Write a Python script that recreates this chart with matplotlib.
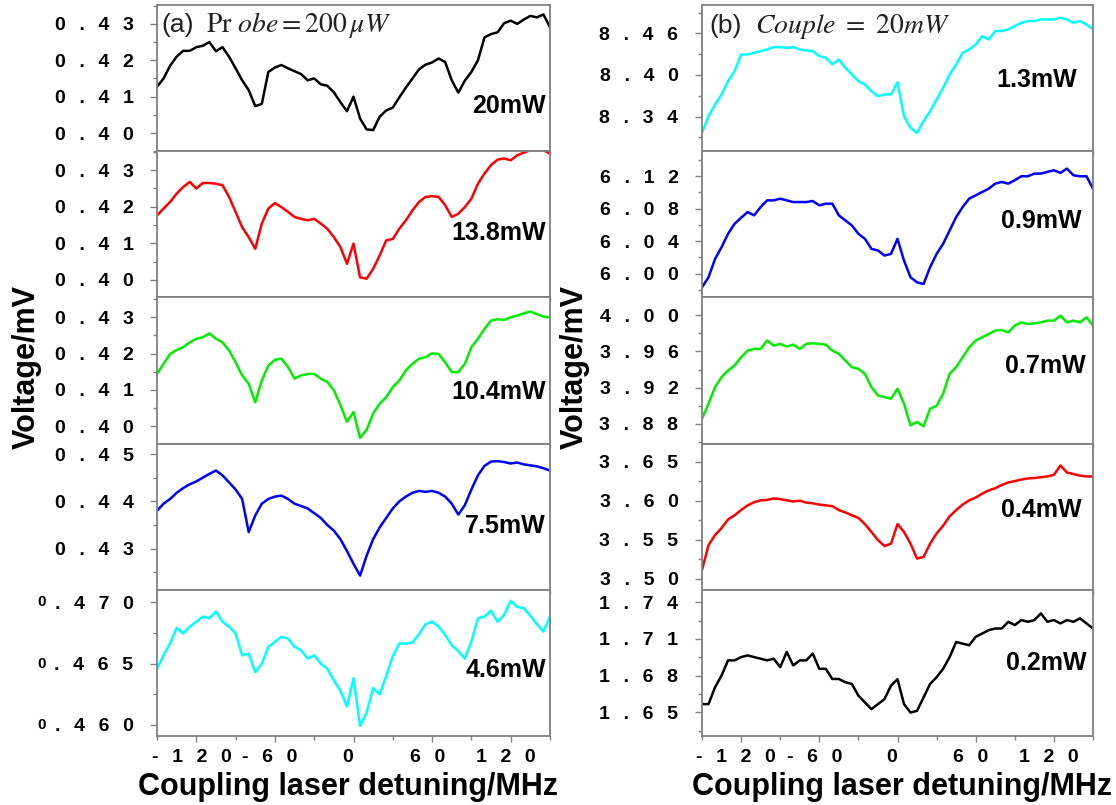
import matplotlib.pyplot as plt
import matplotlib.transforms as mtransforms
from matplotlib.ticker import FixedLocator, MultipleLocator

plt.rcParams['font.family'] = ['Liberation Sans', 'DejaVu Sans']
plt.rcParams['mathtext.fontset'] = 'stix'

W, H = 1116, 805

# detuning grid (MHz), same for all traces
detuning = list(range(-150, 151, 5))

# (a) probe = 200 uW, different coupling powers
v_20mw = [0.4127, 0.4150, 0.4185, 0.4210, 0.4226, 0.4226, 0.4236, 0.4240, 0.4250, 0.4225,
          0.4236, 0.4210, 0.4178, 0.4145, 0.4118, 0.4074, 0.4080, 0.4168, 0.4180, 0.4187,
          0.4178, 0.4170, 0.4162, 0.4145, 0.4150, 0.4134, 0.4130, 0.4112, 0.4085, 0.4060,
          0.4100, 0.4040, 0.4010, 0.4008, 0.4045, 0.4062, 0.4070, 0.4098, 0.4125, 0.4150,
          0.4175, 0.4188, 0.4194, 0.4205, 0.4195, 0.4145, 0.4111, 0.4144, 0.4168, 0.4200,
          0.4263, 0.4272, 0.4277, 0.4302, 0.4309, 0.4300, 0.4312, 0.4322, 0.4318, 0.4326,
          0.4291]
v_13_8mw = [0.4176, 0.4195, 0.4213, 0.4236, 0.4254, 0.4268, 0.4250, 0.4265, 0.4265, 0.4263,
            0.4259, 0.4227, 0.4186, 0.4144, 0.4117, 0.4085, 0.4154, 0.4195, 0.4210, 0.4199,
            0.4186, 0.4172, 0.4167, 0.4163, 0.4167, 0.4154, 0.4140, 0.4117, 0.4090, 0.4044,
            0.4099, 0.4007, 0.4003, 0.4030, 0.4067, 0.4108, 0.4112, 0.4140, 0.4163, 0.4190,
            0.4213, 0.4227, 0.4229, 0.4227, 0.4204, 0.4172, 0.4181, 0.4199, 0.4222, 0.4263,
            0.4291, 0.4314, 0.4329, 0.4332, 0.4327, 0.4341, 0.4348, 0.4355, 0.4355, 0.4355,
            0.4345]
v_10_4mw = [0.4144, 0.4172, 0.4199, 0.4210, 0.4218, 0.4231, 0.4241, 0.4245, 0.4256, 0.4241,
            0.4231, 0.4209, 0.4176, 0.4140, 0.4117, 0.4066, 0.4126, 0.4167, 0.4183, 0.4186,
            0.4163, 0.4131, 0.4140, 0.4144, 0.4144, 0.4131, 0.4122, 0.4099, 0.4058, 0.4012,
            0.4039, 0.3968, 0.3990, 0.4035, 0.4062, 0.4080, 0.4108, 0.4126, 0.4154, 0.4172,
            0.4186, 0.4190, 0.4201, 0.4199, 0.4176, 0.4149, 0.4149, 0.4172, 0.4218, 0.4241,
            0.4268, 0.4291, 0.4295, 0.4293, 0.4300, 0.4305, 0.4311, 0.4316, 0.4309, 0.4302,
            0.4300]
v_7_5mw = [0.4380, 0.4395, 0.4405, 0.4418, 0.4428, 0.4436, 0.4442, 0.4450, 0.4458, 0.4465,
           0.4455, 0.4440, 0.4425, 0.4405, 0.4335, 0.4370, 0.4395, 0.4405, 0.4410, 0.4412,
           0.4405, 0.4395, 0.4390, 0.4385, 0.4375, 0.4365, 0.4350, 0.4338, 0.4320, 0.4295,
           0.4268, 0.4243, 0.4285, 0.4320, 0.4345, 0.4365, 0.4385, 0.4400, 0.4410, 0.4418,
           0.4422, 0.4420, 0.4422, 0.4418, 0.4410, 0.4395, 0.4372, 0.4392, 0.4425, 0.4455,
           0.4475, 0.4484, 0.4485, 0.4483, 0.4480, 0.4482, 0.4478, 0.4476, 0.4474, 0.4470,
           0.4465]
v_4_6mw = [0.46458, 0.46567, 0.46663, 0.46790, 0.46745, 0.46800, 0.46841, 0.46882, 0.46868, 0.46923,
           0.46841, 0.46800, 0.46745, 0.46567, 0.46581, 0.46430, 0.46499, 0.46636, 0.46677, 0.46718,
           0.46704, 0.46636, 0.46608, 0.46540, 0.46567, 0.46499, 0.46458, 0.46362, 0.46279, 0.46150,
           0.46380, 0.45992, 0.46100, 0.46300, 0.46250, 0.46400, 0.46560, 0.46663, 0.46663, 0.46670,
           0.46740, 0.46820, 0.46841, 0.46800, 0.46732, 0.46649, 0.46600, 0.46540, 0.46680, 0.46868,
           0.46882, 0.46930, 0.46840, 0.46896, 0.47010, 0.46960, 0.46951, 0.46890, 0.46820, 0.46760,
           0.46882]

# (b) couple = 20 mW, different probe powers
v_1_3mw = [8.3164, 8.3405, 8.3573, 8.3718, 8.3911, 8.4055, 8.4296, 8.4296, 8.4320, 8.4345,
           8.4369, 8.4402, 8.4402, 8.4393, 8.4402, 8.4369, 8.4354, 8.4345, 8.4272, 8.4248,
           8.4152, 8.4224, 8.4104, 8.4007, 8.3911, 8.3863, 8.3766, 8.3694, 8.3718, 8.3718,
           8.3896, 8.3405, 8.3236, 8.3164, 8.3333, 8.3477, 8.3646, 8.3815, 8.4007, 8.4152,
           8.4320, 8.4369, 8.4441, 8.4561, 8.4513, 8.4634, 8.4634, 8.4658, 8.4706, 8.4754,
           8.4778, 8.4778, 8.4802, 8.4802, 8.4802, 8.4827, 8.4802, 8.4754, 8.4778, 8.4730,
           8.4658]
v_0_9mw = [5.9831, 5.9955, 6.0181, 6.0326, 6.0491, 6.0614, 6.0689, 6.0759, 6.0718, 6.0821,
           6.0903, 6.0903, 6.0924, 6.0903, 6.0882, 6.0882, 6.0882, 6.0895, 6.0841, 6.0862,
           6.0862, 6.0718, 6.0656, 6.0594, 6.0491, 6.0429, 6.0305, 6.0285, 6.0223, 6.0243,
           6.0429, 6.0161, 5.9955, 5.9893, 5.9872, 6.0079, 6.0243, 6.0367, 6.0532, 6.0697,
           6.0821, 6.0924, 6.0965, 6.1006, 6.1047, 6.1109, 6.1130, 6.1109, 6.1151, 6.1200,
           6.1200, 6.1233, 6.1233, 6.1254, 6.1274, 6.1241, 6.1295, 6.1212, 6.1200, 6.1200,
           6.1047]
v_0_7mw = [3.8858, 3.9023, 3.9206, 3.9316, 3.9389, 3.9444, 3.9535, 3.9608, 3.9627, 3.9627,
           3.9720, 3.9663, 3.9682, 3.9652, 3.9674, 3.9627, 3.9682, 3.9689, 3.9682, 3.9674,
           3.9608, 3.9572, 3.9499, 3.9426, 3.9407, 3.9352, 3.9206, 3.9114, 3.9096, 3.9078,
           3.9188, 3.9023, 3.8785, 3.8822, 3.8774, 3.8968, 3.9000, 3.9133, 3.9352, 3.9426,
           3.9535, 3.9645, 3.9718, 3.9755, 3.9791, 3.9828, 3.9835, 3.9810, 3.9883, 3.9919,
           3.9901, 3.9908, 3.9919, 3.9938, 3.9938, 3.9993, 3.9919, 3.9938, 3.9919, 3.9974,
           3.9883]
v_0_4mw = [3.5113, 3.5431, 3.5560, 3.5650, 3.5760, 3.5813, 3.5880, 3.5940, 3.5980, 3.6004,
           3.6010, 3.6029, 3.6020, 3.6004, 3.5990, 3.6000, 3.5975, 3.5966, 3.5950, 3.5940,
           3.5930, 3.5880, 3.5850, 3.5813, 3.5780, 3.5700, 3.5600, 3.5495, 3.5420, 3.5450,
           3.5700, 3.5600, 3.5450, 3.5260, 3.5280, 3.5450, 3.5580, 3.5680, 3.5800, 3.5880,
           3.5950, 3.6004, 3.6040, 3.6090, 3.6131, 3.6160, 3.6200, 3.6233, 3.6250, 3.6270,
           3.6284, 3.6290, 3.6300, 3.6310, 3.6330, 3.6450, 3.6360, 3.6340, 3.6320, 3.6310,
           3.6309]
v_0_2mw = [1.6566, 1.6566, 1.6704, 1.6800, 1.6924, 1.6924, 1.6951, 1.6965, 1.6951, 1.6938,
           1.6924, 1.6938, 1.6869, 1.6993, 1.6883, 1.6924, 1.6924, 1.6980, 1.6855, 1.6855,
           1.6772, 1.6772, 1.6745, 1.6731, 1.6635, 1.6580, 1.6525, 1.6566, 1.6607, 1.6717,
           1.6770, 1.6566, 1.6497, 1.6511, 1.6621, 1.6731, 1.6786, 1.6855, 1.6951, 1.7075,
           1.7061, 1.7048, 1.7117, 1.7144, 1.7172, 1.7185, 1.7185, 1.7240, 1.7213, 1.7254,
           1.7240, 1.7254, 1.7309, 1.7240, 1.7254, 1.7227, 1.7254, 1.7240, 1.7268, 1.7227,
           1.7185]

x_ticks = [-120, -60, 0, 60, 120]

# values, colour, label, y ticks, decimals, ylim, minor step
left_panels = [
    (v_20mw, 'black', '20mW', [0.40, 0.41, 0.42, 0.43], 2, (0.3950, 0.4352), 0.005),
    (v_13_8mw, 'red', '13.8mW', [0.40, 0.41, 0.42, 0.43], 2, (0.3952, 0.4352), 0.005),
    (v_10_4mw, '#00ee00', '10.4mW', [0.40, 0.41, 0.42, 0.43], 2, (0.3952, 0.4355), 0.005),
    (v_7_5mw, 'blue', '7.5mW', [0.43, 0.44, 0.45], 2, (0.4213, 0.4522), 0.005),
    (v_4_6mw, 'cyan', '4.6mW', [0.460, 0.465, 0.470], 3, (0.4591, 0.4710), 0.0025),
]
right_panels = [
    (v_1_3mw, 'cyan', '1.3mW', [8.34, 8.40, 8.46], 2, (8.290, 8.501), 0.03),
    (v_0_9mw, 'blue', '0.9mW', [6.00, 6.04, 6.08, 6.12], 2, (5.9707, 6.1509), 0.02),
    (v_0_7mw, '#00ee00', '0.7mW', [3.88, 3.92, 3.96, 4.00], 2, (3.8584, 4.0194), 0.02),
    (v_0_4mw, 'red', '0.4mW', [3.50, 3.55, 3.60, 3.65], 2, (3.486, 3.673), 0.025),
    (v_0_2mw, 'black', '0.2mW', [1.65, 1.68, 1.71, 1.74], 2, (1.6305, 1.7502), 0.015),
]

# label positions in pixels: (right edge, baseline)
left_label_pos = [(546, 113), (546, 240), (546, 399), (546, 533), (546, 677)]
right_label_pos = [(1077, 87), (1082, 228), (1086, 373), (1082, 517), (1087, 670)]

SP = '\u2002\u2009'


def spaced(s):
    return SP.join(s)


fig = plt.figure(figsize=(W / 100, H / 100), dpi=100)

top, bottom = 5, 736
ph = (bottom - top) / 5
spine_col = '#808080'


def make_column(panels, x0, x1, label_pos, small_zero=False):
    axes = []
    for i, (vals, col, lab, yt, dec, ylim, mstep) in enumerate(panels):
        ax = fig.add_axes([x0 / W, 1 - (top + (i + 1) * ph) / H, (x1 - x0) / W, ph / H])
        ax.plot(detuning, vals, color=col, lw=1.8)
        ax.set_xlim(-150, 150)
        ax.set_ylim(*ylim)
        ax.xaxis.set_major_locator(FixedLocator(x_ticks))
        ax.xaxis.set_minor_locator(MultipleLocator(30))
        ax.yaxis.set_major_locator(FixedLocator(yt))
        ax.yaxis.set_minor_locator(MultipleLocator(mstep))
        for sp in ax.spines.values():
            sp.set_color(spine_col)
            sp.set_linewidth(1.3)
        ax.tick_params(which='both', direction='out', color=spine_col, width=1)
        ax.tick_params(which='major', length=5)
        ax.tick_params(which='minor', length=3)
        ax.tick_params(axis='x', which='major', length=4)
        ax.tick_params(axis='y', pad=12)
        ax.tick_params(axis='x', pad=5)
        if small_zero and dec == 3:
            labels = [spaced(f'{v:.3f}'[1:]) for v in yt]
            tr = mtransforms.blended_transform_factory(ax.transAxes, ax.transData)
            for v in yt:
                ax.text((42 - x0) / (x1 - x0), v, '0', transform=tr, ha='center',
                        va='center', fontsize=11, fontweight='bold')
        else:
            labels = [spaced(f'{v:.{dec}f}') for v in yt]
        ax.set_yticklabels(labels, fontsize=14, fontweight='bold')
        if i == len(panels) - 1:
            ax.set_xticklabels([spaced(str(t)) + '\u2002' for t in x_ticks],
                               fontsize=14, fontweight='bold')
        else:
            ax.set_xticklabels([])
        rx, by = label_pos[i]
        fig.text(rx / W, 1 - by / H, lab, ha='right', va='baseline',
                 fontsize=18, fontweight='bold')
        axes.append(ax)
    return axes


left_axes = make_column(left_panels, 157, 550, left_label_pos, small_zero=True)
right_axes = make_column(right_panels, 702, 1093, right_label_pos)

# panel titles
fig.text(161 / W, 1 - 32 / H, '(a)', ha='left', va='baseline', fontsize=19, color='#222222')
fig.text(206 / W, 1 - 32 / H, r'$\mathrm{Pr}\ obe = 200\,\mu W$', ha='left', va='baseline',
         fontsize=20, color='#222222')
fig.text(709 / W, 1 - 33 / H, '(b)', ha='left', va='baseline', fontsize=19, color='#222222')
fig.text(755 / W, 1 - 33 / H, r'$Couple\ =\ 20mW$', ha='left', va='baseline',
         fontsize=20, color='#222222')

# axis titles
for xc in (27, 575):
    fig.text(xc / W, 1 - 367 / H, 'Voltage/mV', rotation=90, ha='center', va='center',
             fontsize=22, fontweight='bold')
for xc in (348, 902):
    fig.text(xc / W, 1 - 795 / H, 'Coupling laser detuning/MHz', ha='center', va='baseline',
             fontsize=22, fontweight='bold')

fig.savefig('out.png', dpi=100)
